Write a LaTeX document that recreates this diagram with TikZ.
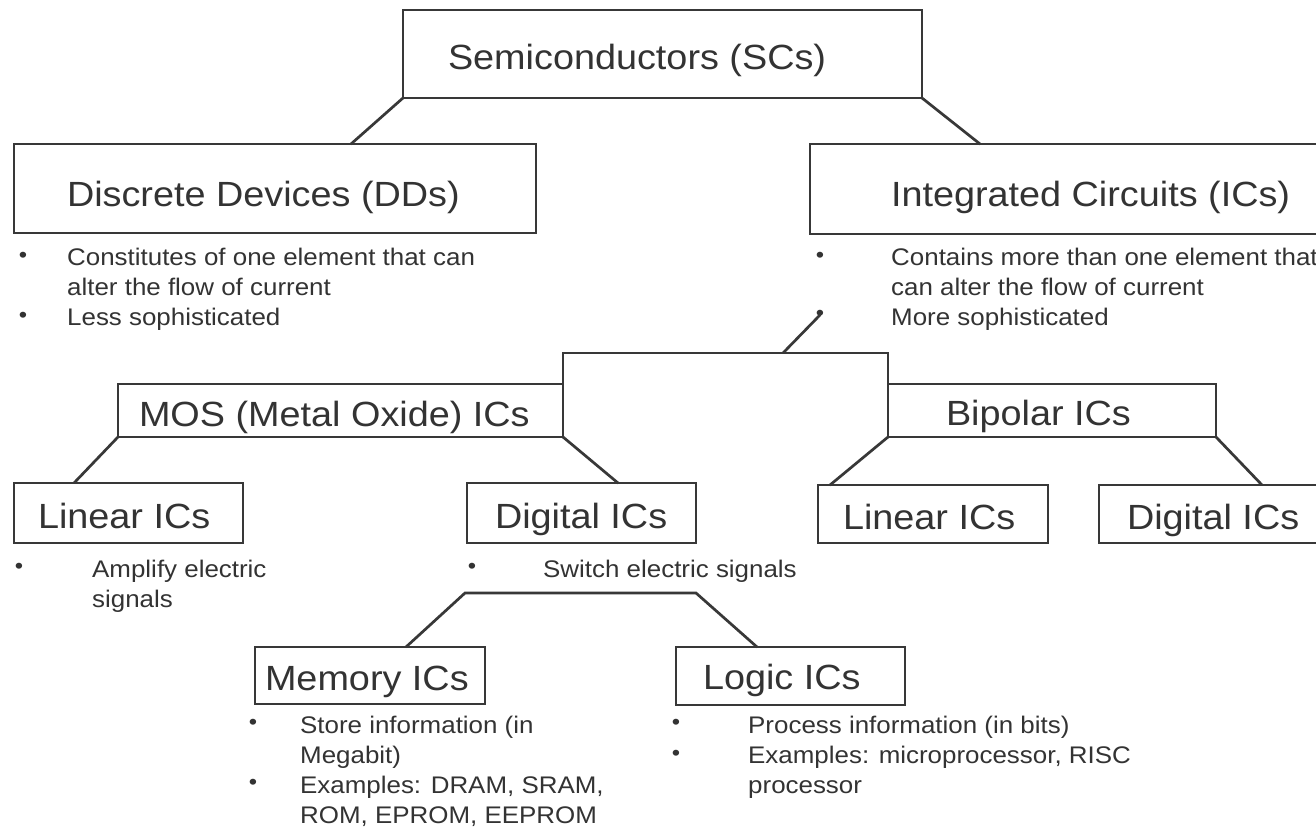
\documentclass[tikz,border=0pt]{standalone}
\usepackage{fontspec}
\setmainfont{Liberation Sans}[FakeStretch=1.08]
\usetikzlibrary{calc}
\definecolor{ink}{HTML}{333333}
\definecolor{edgec}{HTML}{383838}
\newcommand{\bxt}[2]{\makebox[#1][l]{#2}}
\tikzset{
  box/.style={draw=edgec, line width=2.7pt, rectangle, anchor=north west, outer sep=0pt,
    inner ysep=0pt, text=ink, font=\fontsize{35}{40}\selectfont,
    text height=32pt, text depth=0pt},
  conn/.style={draw=edgec, line width=2.7pt, line cap=round, line join=miter},
  btxt/.style={anchor=base west, inner sep=0pt, text=ink, font=\fontsize{24}{30}\selectfont},
  bul/.style={anchor=center, inner sep=0pt, text=ink, font=\fontsize{22}{22}\selectfont}
}
\begin{document}
\begin{tikzpicture}[x=1pt,y=-1pt]
\useasboundingbox (0,0) rectangle (1316,829);
\fill[white] (0,0) rectangle (1316,829);
\clip (0,0) rectangle (1316,829);

% main boxes
\node[box, minimum height=88pt, inner xsep=45pt] (sc) at (403,10) {\bxt{429pt}{Semiconductors (SCs)}};
\node[box, minimum height=89pt, inner xsep=53pt, text height=36pt] (dd) at (14,144) {\bxt{416pt}{Discrete Devices (DDs)}};
\node[box, minimum height=90pt, inner xsep=81pt, text height=36pt] (ic) at (810,144) {\bxt{440pt}{Integrated Circuits (ICs)}};

\node[box, minimum height=53pt, inner xsep=21pt] (mos) at (118,384) {\bxt{403pt}{MOS (Metal Oxide) ICs}};
\node[box, minimum height=53pt, inner xsep=58pt, text height=30pt] (bip) at (888,384) {\bxt{212pt}{Bipolar ICs}};

\node[box, minimum height=60pt, inner xsep=24pt, text height=30pt] (lin1) at (14,483) {\bxt{181pt}{Linear ICs}};
\node[box, minimum height=60pt, inner xsep=28pt, text height=30pt] (dig1) at (467,483) {\bxt{173pt}{Digital ICs}};
\node[box, minimum height=58pt, inner xsep=25pt, text height=30pt] (lin2) at (818,485) {\bxt{180pt}{Linear ICs}};
\node[box, minimum height=58pt, inner xsep=28pt, text height=30pt] (dig2) at (1099,485) {\bxt{220pt}{Digital ICs}};

\node[box, minimum height=57pt, inner xsep=10pt, text height=29pt] (mem) at (255,647) {\bxt{210pt}{Memory ICs}};
\node[box, minimum height=58pt, inner xsep=27pt, text height=27pt] (log) at (676,647) {\bxt{175pt}{Logic ICs}};

% bullets and bullet texts
\node[bul] (ddb1) at (23,257) {•};
\node[btxt] (ddt1) at (67,265) {Constitutes of one element that can};
\node[btxt] (ddt2) at (67,295) {alter the flow of current};
\node[bul] (ddb2) at (23,317) {•};
\node[btxt] (ddt3) at (67,325) {Less sophisticated};

\node[bul] (icb1) at (820,257) {•};
\node[btxt] (ict1) at (891,265) {Contains more than one element that};
\node[btxt] (ict2) at (891,295) {can alter the flow of current};
\node[bul] (icb2) at (820,315) {•};
\node[btxt] (ict3) at (891,325) {More sophisticated};

\node[bul] (l1b) at (19,568) {•};
\node[btxt] (l1t1) at (92,577) {Amplify electric};
\node[btxt] (l1t2) at (92,607) {signals};

\node[bul] (d1b) at (472,568) {•};
\node[btxt] (d1t1) at (543,577) {Switch electric signals};

\node[bul] (mb1) at (253,724) {•};
\node[btxt] (mt1) at (300,733) {Store information (in};
\node[btxt] (mt2) at (300,763) {Megabit)};
\node[bul] (mb2) at (253,784) {•};
\node[btxt] (mt3) at (300,793) {Examples: DRAM, SRAM,};
\node[btxt] (mt4) at (300,823) {ROM, EPROM, EEPROM};

\node[bul] (gb1) at (676,724) {•};
\node[btxt] (gt1) at (748,733) {Process information (in bits)};
\node[bul] (gb2) at (676,755) {•};
\node[btxt] (gt2) at (748,763) {Examples: microprocessor, RISC};
\node[btxt] (gt3) at (748,793) {processor};

% group outline above MOS / Bipolar
\coordinate (grptop) at (783,353);
\draw[conn] (mos.south east) -- (mos.south east |- grptop) -- (bip.south west |- grptop) -- (bip.south west);

% connectors
\draw[conn] (sc.south west) -- ([xshift=337pt]dd.north west);
\draw[conn] (sc.south east) -- ([xshift=170pt]ic.north west);
\draw[conn] (icb2.center) -- (grptop);
\draw[conn] (mos.south west) -- ([xshift=60pt]lin1.north west);
\draw[conn] (mos.south east) -- ([xshift=151pt]dig1.north west);
\draw[conn] (bip.south west) -- ([xshift=12pt]lin2.north west);
\draw[conn] (bip.south east) -- ([xshift=163pt]dig2.north west);

% memory / logic split
\coordinate (mlL) at (465,593);
\coordinate (mlR) at (696,593);
\draw[conn] ([xshift=151pt]mem.north west) -- (mlL) -- (mlR) -- ([xshift=81pt]log.north west);
\end{tikzpicture}
\end{document}
